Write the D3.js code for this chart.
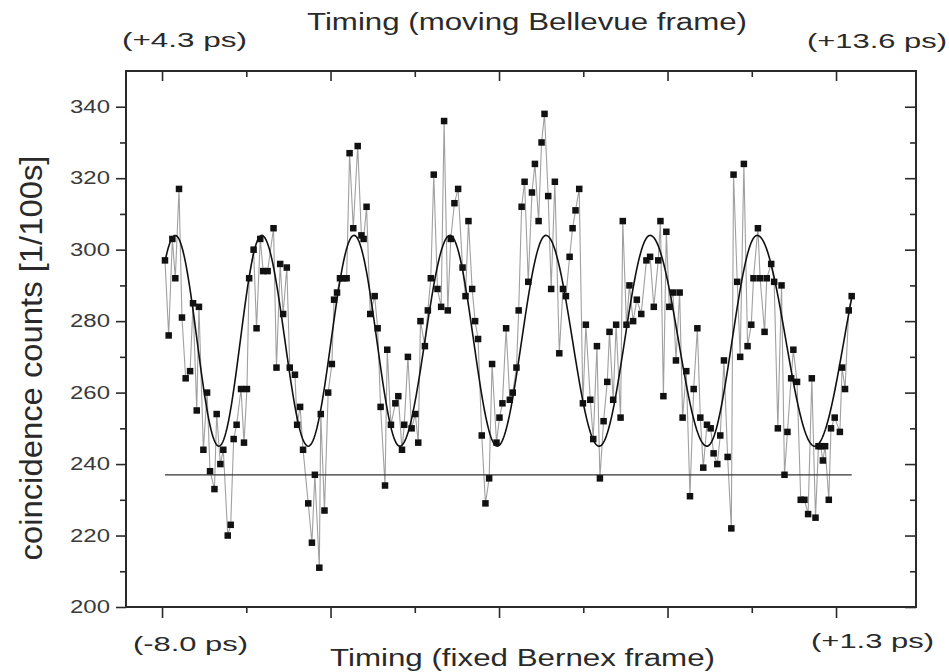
<!DOCTYPE html>
<html>
<head>
<meta charset="utf-8">
<script src="https://cdnjs.cloudflare.com/ajax/libs/d3/7.8.5/d3.min.js"></script>
<style>
  html, body { margin: 0; padding: 0; background: #fff; }
  svg { display: block; font-family: "Liberation Sans", Arial, sans-serif; }
</style>
</head>
<body>
<div id="chart"><svg></svg></div>
<script>
// delay in ps (fixed Bernex frame) and coincidence counts per 100 s
const delays = [-8.00,-7.95,-7.90,-7.86,-7.81,-7.77,-7.72,-7.66,-7.62,-7.57,
  -7.54,-7.48,-7.43,-7.39,-7.33,-7.30,-7.25,-7.21,-7.15,-7.11,
  -7.07,-7.03,-6.97,-6.93,-6.89,-6.86,-6.80,-6.76,-6.71,-6.67,
  -6.61,-6.53,-6.49,-6.44,-6.40,-6.35,-6.31,-6.24,-6.21,-6.17,
  -6.13,-6.06,-6.01,-5.97,-5.91,-5.89,-5.84,-5.79,-5.74,-5.71,
  -5.67,-5.63,-5.58,-5.54,-5.50,-5.45,-5.39,-5.34,-5.31,-5.27,
  -5.22,-5.16,-5.12,-5.08,-5.02,-4.99,-4.94,-4.88,-4.84,-4.79,
  -4.76,-4.71,-4.66,-4.61,-4.57,-4.54,-4.48,-4.44,-4.40,-4.36,
  -4.31,-4.26,-4.22,-4.17,-4.13,-4.08,-4.03,-3.97,-3.93,-3.89,
  -3.84,-3.80,-3.76,-3.71,-3.66,-3.61,-3.57,-3.51,-3.47,-3.43,
  -3.38,-3.33,-3.29,-3.24,-3.21,-3.17,-3.13,-3.08,-3.03,-2.99,
  -2.94,-2.90,-2.86,-2.81,-2.77,-2.72,-2.66,-2.61,-2.57,-2.52,
  -2.48,-2.44,-2.39,-2.34,-2.30,-2.24,-2.20,-2.15,-2.11,-2.06,
  -2.01,-1.98,-1.93,-1.89,-1.83,-1.80,-1.75,-1.71,-1.66,-1.61,
  -1.55,-1.48,-1.43,-1.38,-1.32,-1.29,-1.25,-1.21,-1.17,-1.12,
  -1.08,-1.03,-0.99,-0.94,-0.89,-0.84,-0.79,-0.75,-0.71,-0.66,
  -0.61,-0.57,-0.52,-0.48,-0.43,-0.38,-0.33,-0.30,-0.25,-0.21,
  -0.16,-0.11,-0.06,-0.03,0.03,0.06,0.12,0.15,0.21,0.25,
  0.30,0.35,0.39,0.43,0.48,0.51,0.56,0.61,0.66,0.71,
  0.76,0.81,0.85,0.88,0.91,0.94,0.99,1.02,1.07,1.14,
  1.17,1.21,1.26,1.30];

const counts = [297,276,303,292,317,281,264,266,285,255,
  284,244,260,238,233,254,240,244,220,223,
  247,251,261,246,261,292,300,278,303,294,
  294,306,267,296,282,295,267,265,251,256,
  244,229,218,237,211,254,227,260,268,286,
  288,292,292,292,327,306,329,304,303,312,
  282,287,278,256,234,272,251,257,259,244,
  251,270,250,254,246,280,273,283,292,321,
  289,284,336,283,303,313,317,295,287,308,
  289,280,275,248,229,236,268,246,253,257,
  278,258,260,267,283,312,319,291,316,324,
  308,330,338,315,289,319,271,289,287,298,
  306,311,317,257,279,258,247,273,236,252,
  263,277,258,279,253,308,279,290,280,286,
  282,297,298,284,297,308,259,305,284,288,
  269,288,253,266,231,261,278,253,239,251,
  250,243,240,248,269,242,222,321,291,270,
  324,273,279,292,306,292,277,292,296,291,
  250,290,237,249,264,272,263,230,230,226,
  264,225,245,245,241,245,230,250,253,249,
  267,261,283,287];

// fitted fringe: maxima / minima positions (ps) and level
const fitPeaks = [-7.86, -6.69, -5.44, -4.14, -2.84, -1.43, 0.02, 1.59];
const fitTroughs = [-8.47, -7.27, -6.06, -4.82, -3.50, -2.12, -0.66, 0.80];
const fitMean = 274.5;
const fitAmp = 29.5;

// flat level line
const baseLevel = 237;

const yTicks = [200, 220, 240, 260, 280, 300, 320, 340];
const yMinorTicks = [210, 230, 250, 270, 290, 310, 330];
const xTickStart = -8.04;   // first tick of the (unlabelled) delay axis
const xTickStep = 1.141;
const xTickCount = 9;

const bottomRange = ['(-8.0 ps)', '(+1.3 ps)'];
const topRange = ['(+4.3 ps)', '(+13.6 ps)'];
const bottomTitle = 'Timing (fixed Bernex frame)';
const topTitle = 'Timing (moving Bellevue frame)';
const yTitle = 'coincidence counts [1/100s]';

const width = 949;
const height = 672;
const margin = {left: 126, right: 33, top: 71, bottom: 65};

const svg = d3.select('#chart').select('svg')
    .attr('width', width)
    .attr('height', height)
    .attr('viewBox', '0 0 ' + width + ' ' + height);

const x = d3.scaleLinear()
    .domain([-8.528, 2.171])
    .range([margin.left, width - margin.right]);

const y = d3.scaleLinear()
    .domain([200, 350])
    .range([height - margin.bottom, margin.top]);

const ink = '#2a2a2a';

// x tick positions
const xTicks = d3.range(xTickCount).map(k => xTickStart + k * xTickStep);
const xMajor = xTicks.filter((d, i) => i % 2 === 0);
const xMinor = xTicks.filter((d, i) => i % 2 === 1);

function styleAxis(g) {
  g.select('.domain').remove();
  g.selectAll('line').attr('stroke', ink).attr('stroke-width', 1.6);
}

// left axis
svg.append('g')
    .attr('transform', 'translate(' + margin.left + ',0)')
    .call(d3.axisLeft(y).tickValues(yTicks).tickSize(10).tickPadding(6))
    .call(styleAxis)
    .call(g => g.selectAll('text')
      .attr('font-size', 18)
      .attr('fill', '#3a3a3a')
      .attr('textLength', 40)
      .attr('lengthAdjust', 'spacingAndGlyphs'));

svg.append('g')
    .attr('transform', 'translate(' + margin.left + ',0)')
    .call(d3.axisLeft(y).tickValues(yMinorTicks).tickSize(6).tickFormat(''))
    .call(styleAxis);

// right axis, ticks inward
svg.append('g')
    .attr('transform', 'translate(' + (width - margin.right) + ',0)')
    .call(d3.axisLeft(y).tickValues(yTicks).tickSize(11).tickFormat(''))
    .call(styleAxis);
svg.append('g')
    .attr('transform', 'translate(' + (width - margin.right) + ',0)')
    .call(d3.axisLeft(y).tickValues(yMinorTicks).tickSize(6).tickFormat(''))
    .call(styleAxis);

// bottom axis, ticks outward
svg.append('g')
    .attr('transform', 'translate(0,' + (height - margin.bottom) + ')')
    .call(d3.axisBottom(x).tickValues(xMajor).tickSize(11).tickFormat(''))
    .call(styleAxis);
svg.append('g')
    .attr('transform', 'translate(0,' + (height - margin.bottom) + ')')
    .call(d3.axisBottom(x).tickValues(xMinor).tickSize(6).tickFormat(''))
    .call(styleAxis);

// top axis, ticks inward
svg.append('g')
    .attr('transform', 'translate(0,' + margin.top + ')')
    .call(d3.axisBottom(x).tickValues(xMajor).tickSize(10).tickFormat(''))
    .call(styleAxis);
svg.append('g')
    .attr('transform', 'translate(0,' + margin.top + ')')
    .call(d3.axisBottom(x).tickValues(xMinor).tickSize(6).tickFormat(''))
    .call(styleAxis);

// frame
svg.append('rect')
    .attr('x', margin.left)
    .attr('y', margin.top)
    .attr('width', width - margin.left - margin.right)
    .attr('height', height - margin.top - margin.bottom)
    .attr('fill', 'none')
    .attr('stroke', ink)
    .attr('stroke-width', 2);

const points = d3.zip(delays, counts);

// thin grey connection through the data
svg.append('path')
    .datum(points)
    .attr('fill', 'none')
    .attr('stroke', '#a0a0a0')
    .attr('stroke-width', 1.1)
    .attr('d', d3.line().x(d => x(d[0])).y(d => y(d[1])));

// flat level
svg.append('line')
    .attr('x1', x(delays[0]))
    .attr('x2', x(delays[delays.length - 1]))
    .attr('y1', y(baseLevel))
    .attr('y2', y(baseLevel))
    .attr('stroke', '#333')
    .attr('stroke-width', 1.3);

// fitted curve: cosine segments between the fitted extrema
const extrema = fitPeaks.map(t => ({t: t, v: fitMean + fitAmp}))
    .concat(fitTroughs.map(t => ({t: t, v: fitMean - fitAmp})))
    .sort((a, b) => a.t - b.t);

function fitAt(t) {
  let i = d3.bisector(d => d.t).right(extrema, t) - 1;
  i = Math.max(0, Math.min(extrema.length - 2, i));
  const a = extrema[i], b = extrema[i + 1];
  const f = (t - a.t) / (b.t - a.t);
  return a.v + (b.v - a.v) * (1 - Math.cos(Math.PI * f)) / 2;
}

const t0 = delays[0], t1 = delays[delays.length - 1];
const fitPts = d3.range(701).map(k => {
  const t = t0 + (t1 - t0) * k / 700;
  return [t, fitAt(t)];
});

svg.append('path')
    .datum(fitPts)
    .attr('fill', 'none')
    .attr('stroke', '#111')
    .attr('stroke-width', 1.6)
    .attr('d', d3.line().x(d => x(d[0])).y(d => y(d[1])));

// square markers
const s = 6.5;
svg.append('g')
    .selectAll('rect')
    .data(points)
    .join('rect')
    .attr('x', d => x(d[0]) - s / 2)
    .attr('y', d => y(d[1]) - s / 2)
    .attr('width', s)
    .attr('height', s)
    .attr('fill', '#111');

// texts
function label(txt, x0, yb, size, len) {
  svg.append('text')
      .attr('x', x0)
      .attr('y', yb)
      .attr('font-size', size)
      .attr('fill', '#2a2a2a')
      .attr('textLength', len)
      .attr('lengthAdjust', 'spacingAndGlyphs')
      .text(txt);
}

label(topTitle, 307, 30, 23, 440);
label(topRange[0], 122, 47, 21, 125);
label(topRange[1], 807, 48, 21, 140);
label(bottomRange[0], 133, 651, 21, 115);
label(bottomRange[1], 811, 648, 21, 123);
label(bottomTitle, 330, 666, 23, 385);

svg.append('text')
    .attr('transform', 'translate(42,358) rotate(-90)')
    .attr('text-anchor', 'middle')
    .attr('font-size', 31)
    .attr('fill', '#2a2a2a')
    .attr('textLength', 405)
    .attr('lengthAdjust', 'spacingAndGlyphs')
    .text(yTitle);
</script>
</body>
</html>
